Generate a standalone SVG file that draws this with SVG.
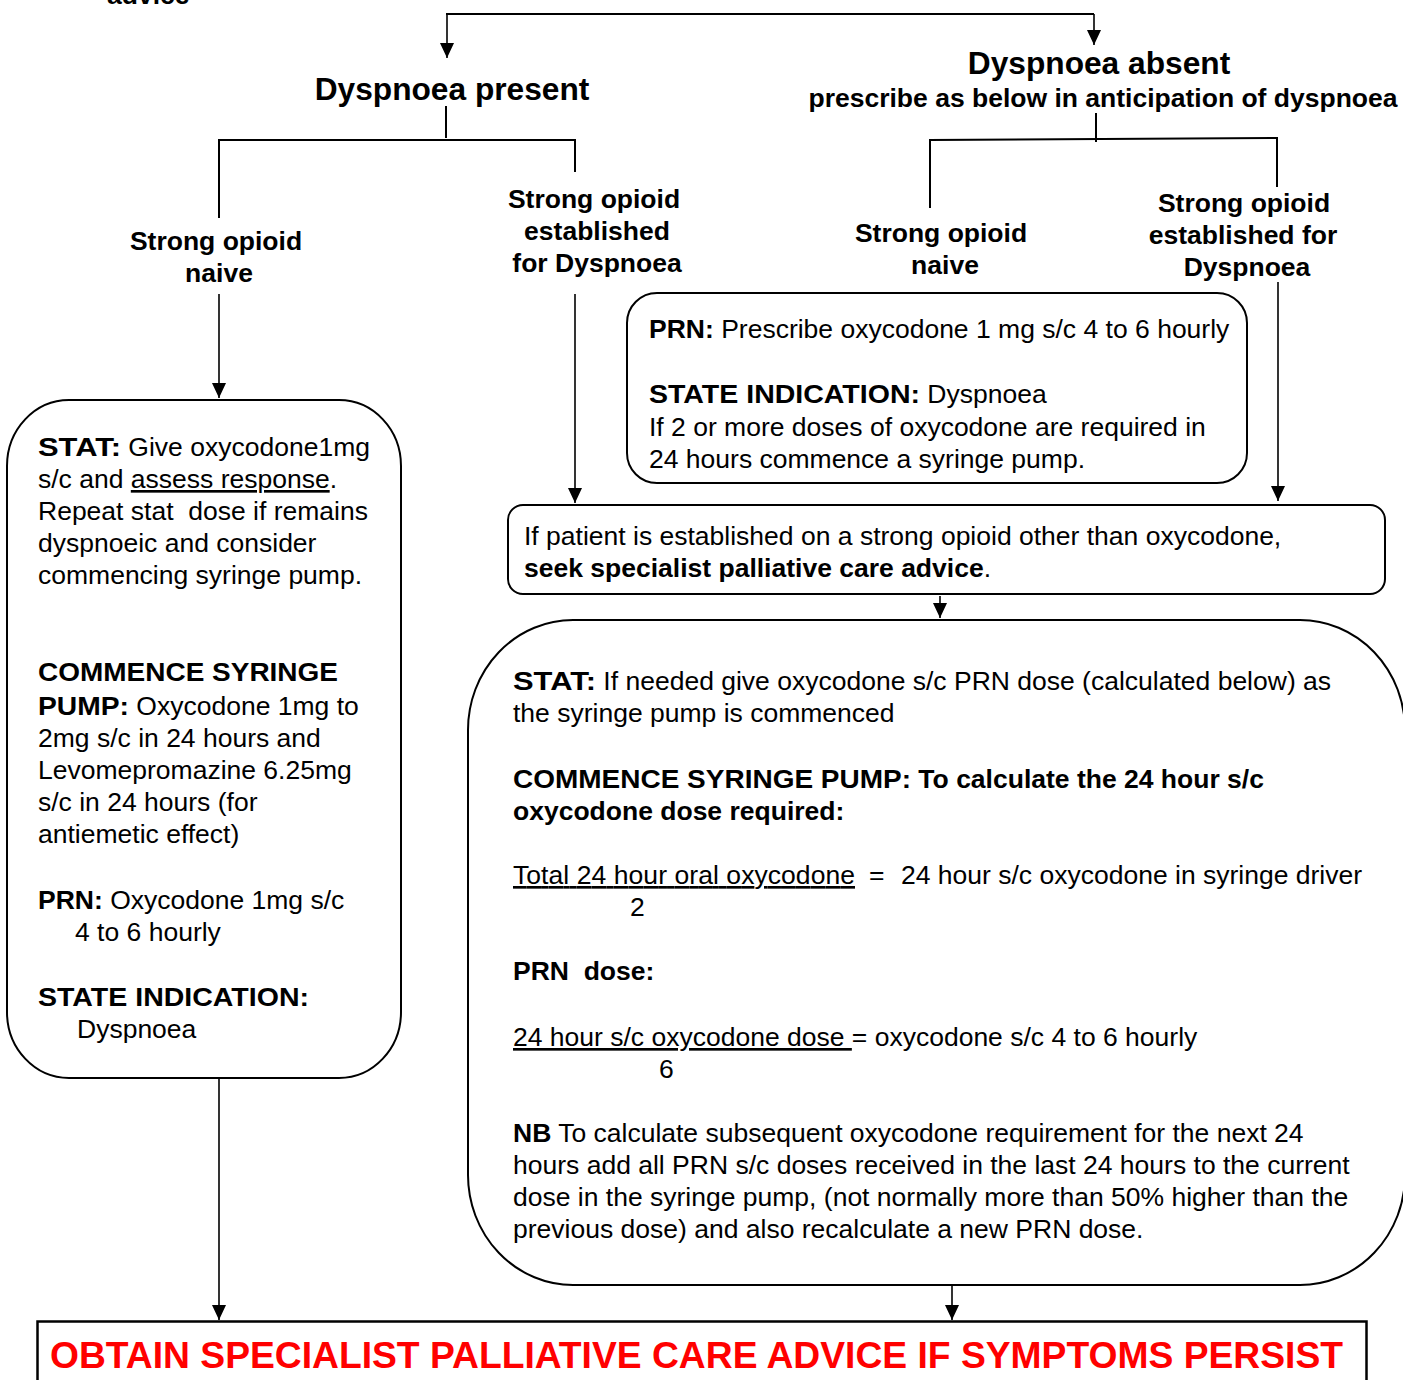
<svg xmlns="http://www.w3.org/2000/svg" width="1403" height="1380" viewBox="0 0 1403 1380">
<defs>
<marker id="ah" markerUnits="userSpaceOnUse" markerWidth="15" markerHeight="14" refX="15" refY="7" orient="auto">
<path d="M0,0 L15,7 L0,14 z" fill="#000"/>
</marker>
<style>
text{font-family:"Liberation Sans",Arial,sans-serif;fill:#000;white-space:pre}
.lbl{font-size:26.5px;font-weight:bold;text-anchor:middle}
.head{font-size:31.7px;font-weight:bold;text-anchor:middle}
.body{font-size:26.5px}
.b{font-weight:bold}
.u{text-decoration:underline}
.box{fill:#fff;stroke:#000;stroke-width:2}
.con{fill:none;stroke:#000;stroke-width:2}
.arr{fill:none;stroke:#000;stroke-width:1.6;marker-end:url(#ah)}
</style>
</defs>
<rect width="1403" height="1380" fill="#fff"/>

<g id="connectors">
<path class="con" d="M446,14 H1094"/>
<path class="arr" d="M447,14 V58"/>
<path class="arr" d="M1094,14 V45"/>
<path class="con" d="M446,106 V138"/>
<path class="con" d="M219,218 V140 H575 V172"/>
<path class="arr" d="M219,294 V398"/>
<path class="arr" d="M575,294 V503"/>
<path class="con" d="M1096,113 V142"/>
<path class="con" d="M930,208 V140 L1277,138 V187"/>
<path class="arr" d="M1278,282 V501"/>
<path class="arr" d="M940,596 V618"/>
<path class="arr" d="M219,1078 V1320"/>
<path class="arr" d="M952,1286 V1320"/>
</g>

<g id="advice-fragment">
<text class="b" x="107" y="4" style="font-size:26.5px">advice</text>
</g>

<g id="dyspnoea-present">
<text class="head" x="452" y="100">Dyspnoea present</text>
</g>

<g id="dyspnoea-absent">
<text class="head" x="1099" y="74">Dyspnoea absent</text>
<text class="lbl" x="1103" y="107">prescribe as below in anticipation of dyspnoea</text>
</g>

<g id="naive-left">
<text class="lbl" x="216" y="250">Strong opioid</text>
<text class="lbl" x="219" y="282">naive</text>
</g>

<g id="established-left">
<text class="lbl" x="594" y="208">Strong opioid</text>
<text class="lbl" x="597" y="240">established</text>
<text class="lbl" x="597" y="272">for Dyspnoea</text>
</g>

<g id="naive-right">
<text class="lbl" x="941" y="242">Strong opioid</text>
<text class="lbl" x="945" y="274">naive</text>
</g>

<g id="established-right">
<text class="lbl" x="1244" y="212">Strong opioid</text>
<text class="lbl" x="1243" y="244">established for</text>
<text class="lbl" x="1247" y="276">Dyspnoea</text>
</g>

<g id="naive-box">
<rect class="box" x="7" y="400" width="394" height="678" rx="62" ry="66"/>
<text class="body" x="38" y="456"><tspan class="b" textLength="83" lengthAdjust="spacingAndGlyphs">STAT:</tspan> Give oxycodone1mg</text>
<text class="body" x="38" y="488">s/c and <tspan class="u">assess response</tspan>.</text>
<text class="body" x="38" y="520">Repeat stat  dose if remains</text>
<text class="body" x="38" y="552">dyspnoeic and consider</text>
<text class="body" x="38" y="584">commencing syringe pump.</text>
<text class="body b" x="38" y="681" textLength="300" lengthAdjust="spacingAndGlyphs">COMMENCE SYRINGE</text>
<text class="body" x="38" y="715"><tspan class="b" textLength="91" lengthAdjust="spacingAndGlyphs">PUMP:</tspan> Oxycodone 1mg to</text>
<text class="body" x="38" y="747">2mg s/c in 24 hours and</text>
<text class="body" x="38" y="779">Levomepromazine 6.25mg</text>
<text class="body" x="38" y="811">s/c in 24 hours (for</text>
<text class="body" x="38" y="843">antiemetic effect)</text>
<text class="body" x="38" y="909"><tspan class="b">PRN:</tspan> Oxycodone 1mg s/c</text>
<text class="body" x="75" y="941">4 to 6 hourly</text>
<text class="body b" x="38" y="1006" textLength="271" lengthAdjust="spacingAndGlyphs">STATE INDICATION:</text>
<text class="body" x="77" y="1038">Dyspnoea</text>
</g>

<g id="prn-box">
<rect class="box" x="627" y="293" width="620" height="190" rx="30" ry="30"/>
<text class="body" x="649" y="338"><tspan class="b">PRN:</tspan> Prescribe oxycodone 1 mg s/c 4 to 6 hourly</text>
<text class="body" x="649" y="403"><tspan class="b" textLength="271" lengthAdjust="spacingAndGlyphs">STATE INDICATION:</tspan> Dyspnoea</text>
<text class="body" x="649" y="436">If 2 or more doses of oxycodone are required in</text>
<text class="body" x="649" y="468">24 hours commence a syringe pump.</text>
</g>

<g id="other-opioid-box">
<rect class="box" x="508" y="505" width="877" height="89" rx="15" ry="15"/>
<text class="body" x="524" y="545">If patient is established on a strong opioid other than oxycodone,</text>
<text class="body" x="524" y="577"><tspan class="b">seek specialist palliative care advice</tspan>.</text>
</g>

<g id="syringe-box">
<rect class="box" x="468" y="620" width="937" height="665" rx="105" ry="110"/>
<text class="body" x="513" y="690"><tspan class="b" textLength="83" lengthAdjust="spacingAndGlyphs">STAT:</tspan> If needed give oxycodone s/c PRN dose (calculated below) as</text>
<text class="body" x="513" y="722">the syringe pump is commenced</text>
<text class="body b" x="513" y="788"><tspan textLength="398" lengthAdjust="spacingAndGlyphs">COMMENCE SYRINGE PUMP:</tspan> To calculate the 24 hour s/c</text>
<text class="body b" x="513" y="820">oxycodone dose required:</text>
<text class="body" x="513" y="884"><tspan class="u" textLength="342" lengthAdjust="spacing">Total 24 hour oral oxycodone</tspan><tspan x="869">=</tspan><tspan x="901">24 hour s/c oxycodone in syringe driver</tspan></text>
<text class="body" x="630" y="916">2</text>
<text class="body b" x="513" y="980">PRN  dose:</text>
<text class="body" x="513" y="1046"><tspan class="u">24 hour s/c oxycodone dose </tspan>= oxycodone s/c 4 to 6 hourly</text>
<text class="body" x="659" y="1078">6</text>
<text class="body" x="513" y="1142"><tspan class="b">NB</tspan> To calculate subsequent oxycodone requirement for the next 24</text>
<text class="body" x="513" y="1174">hours add all PRN s/c doses received in the last 24 hours to the current</text>
<text class="body" x="513" y="1206">dose in the syringe pump, (not normally more than 50% higher than the</text>
<text class="body" x="513" y="1238">previous dose) and also recalculate a new PRN dose.</text>
</g>

<g id="specialist-box">
<rect x="37.5" y="1321.5" width="1329" height="80" fill="#fff" stroke="#000" stroke-width="2.5"/>
<text x="50" y="1368" textLength="1293" lengthAdjust="spacingAndGlyphs" style="font-size:36px;font-weight:bold;fill:#ff0000">OBTAIN SPECIALIST PALLIATIVE CARE ADVICE IF SYMPTOMS PERSIST</text>
</g>
</svg>
